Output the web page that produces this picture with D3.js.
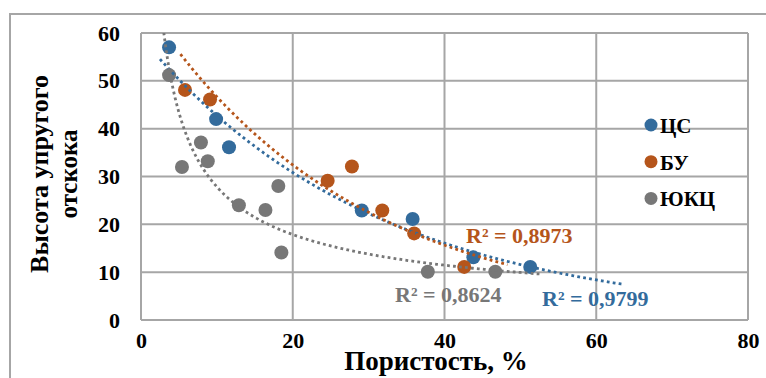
<!DOCTYPE html>
<html>
<head>
<meta charset="utf-8">
<script src="https://cdn.jsdelivr.net/npm/d3@7"></script>
<style>
  body { margin: 0; background: #fff; }
  svg { display: block; }
  text { font-family: "Liberation Serif", "Times New Roman", serif; font-weight: bold; }
</style>
</head>
<body>
<svg width="766" height="378"></svg>
<script>
// data: porosity (%) vs rebound height
var csX = [3.7, 9.9, 11.6, 29.1, 35.8, 43.8, 51.3];
var csY = [57, 42, 36.1, 22.9, 21.1, 13.1, 11.1];
var buX = [5.8, 9.1, 24.6, 27.8, 31.8, 36.0, 42.6];
var buY = [48.1, 46.1, 29.1, 32.1, 22.9, 18.1, 11.1];
var ukcX = [3.7, 5.4, 7.9, 8.8, 12.9, 16.4, 18.1, 18.5, 37.8, 46.7];
var ukcY = [51.2, 32.0, 37.1, 33.2, 24.0, 23.0, 28.0, 14.1, 10.1, 10.1];

var xTicks = [0, 20, 40, 60, 80];
var yTicks = [0, 10, 20, 30, 40, 50, 60];
var seriesNames = ["ЦС", "БУ", "ЮКЦ"];
var r2Labels = ["R² = 0,9799", "R² = 0,8973", "R² = 0,8624"];

var colors = ["#336b9c", "#b5551b", "#777777"];

var svg = d3.select("svg");
var x = d3.scaleLinear().domain([0, 80]).range([141, 748]);
var y = d3.scaleLinear().domain([0, 60]).range([320, 33]);

// outer chart frame (runs off the right/bottom edge)
svg.append("path")
  .attr("d", "M10,380 L10,14 L770,14")
  .attr("fill", "none").attr("stroke", "#a6a6a6").attr("stroke-width", 2);

// grid
var grid = svg.append("g").attr("stroke", "#a6a6a6").attr("stroke-width", 2);
grid.selectAll(".vx").data(xTicks).enter().append("line")
  .attr("x1", d => x(d)).attr("x2", d => x(d))
  .attr("y1", y(0)).attr("y2", y(60));
grid.selectAll(".hy").data(yTicks).enter().append("line")
  .attr("x1", x(0)).attr("x2", x(80))
  .attr("y1", d => y(d)).attr("y2", d => y(d));

// tick labels
var yAxis = svg.append("g").attr("transform", "translate(120,0)")
  .call(d3.axisLeft(y).tickValues(yTicks).tickSize(0).tickPadding(0));
yAxis.select(".domain").remove();
yAxis.selectAll("text").attr("font-size", 22).attr("fill", "#000")
  .style("font-family", "'Liberation Serif', serif").style("font-weight", "bold");

var xAxis = svg.append("g").attr("transform", "translate(0,332)")
  .call(d3.axisBottom(x).tickValues(xTicks).tickSize(0).tickPadding(0));
xAxis.select(".domain").remove();
xAxis.selectAll("text").attr("font-size", 22).attr("fill", "#000")
  .style("font-family", "'Liberation Serif', serif").style("font-weight", "bold");

// axis titles
svg.append("text").attr("x", 436).attr("y", 370).attr("text-anchor", "middle")
  .attr("font-size", 27).text("Пористость, %");
svg.append("text").attr("transform", "translate(48,174) rotate(-90)")
  .attr("text-anchor", "middle").attr("font-size", 26).text("Высота упругого");
svg.append("text").attr("transform", "translate(77,174) rotate(-90)")
  .attr("text-anchor", "middle").attr("font-size", 25).text("отскока");

// least squares fits, like Excel trendlines
function fitExp(xs, ys) {
  var lx = xs, ly = ys.map(Math.log);
  var mx = d3.mean(lx), my = d3.mean(ly);
  var sxy = d3.sum(lx, (v, i) => (v - mx) * (ly[i] - my));
  var sxx = d3.sum(lx, v => (v - mx) * (v - mx));
  var b = sxy / sxx, a = Math.exp(my - b * mx);
  return t => a * Math.exp(b * t);
}
function fitPow(xs, ys) {
  var lx = xs.map(Math.log), ly = ys.map(Math.log);
  var mx = d3.mean(lx), my = d3.mean(ly);
  var sxy = d3.sum(lx, (v, i) => (v - mx) * (ly[i] - my));
  var sxx = d3.sum(lx, v => (v - mx) * (v - mx));
  var b = sxy / sxx, a = Math.exp(my - b * mx);
  return t => a * Math.pow(t, b);
}

var series = [
  {xs: csX, ys: csY, fit: fitExp(csX, csY), from: 2.5, to: 63.5},
  {xs: buX, ys: buY, fit: fitExp(buX, buY), from: 5.2, to: 48.3},
  {xs: ukcX, ys: ukcY, fit: fitPow(ukcX, ukcY), from: 2.5, to: 52.6}
];

svg.append("clipPath").attr("id", "plot").append("rect")
  .attr("x", x(0)).attr("y", y(60)).attr("width", x(80) - x(0)).attr("height", y(0) - y(60));

// markers
series.forEach(function(s, k) {
  svg.append("g").selectAll("circle").data(s.xs).enter().append("circle")
    .attr("cx", d => x(d)).attr("cy", (d, i) => y(s.ys[i]))
    .attr("r", 7).attr("fill", colors[k]);
});

// trendlines on top of markers
var line = d3.line().x(d => x(d[0])).y(d => y(d[1]));
series.forEach(function(s, k) {
  var pts = d3.range(s.from, s.to, 0.25).concat([s.to]).map(t => [t, s.fit(t)]);
  svg.append("path").datum(pts).attr("d", line)
    .attr("clip-path", "url(#plot)")
    .attr("fill", "none").attr("stroke", colors[k])
    .attr("stroke-width", 2.8).attr("stroke-dasharray", "2.8,3.2");
});

// R² labels
var r2Pos = [[542, 306], [466, 243], [395, 302]];
r2Labels.forEach(function(t, k) {
  svg.append("text").attr("x", r2Pos[k][0]).attr("y", r2Pos[k][1])
    .attr("font-size", 22).attr("fill", colors[k]).text(t);
});

// legend
var leg = svg.append("g").attr("transform", "translate(651,125)");
seriesNames.forEach(function(n, k) {
  var g = leg.append("g").attr("transform", "translate(0," + (k * 36.7) + ")");
  g.append("circle").attr("r", 6.5).attr("fill", colors[k]);
  g.append("text").attr("x", 9).attr("y", 8).attr("font-size", 21).text(n);
});
</script>
</body>
</html>
